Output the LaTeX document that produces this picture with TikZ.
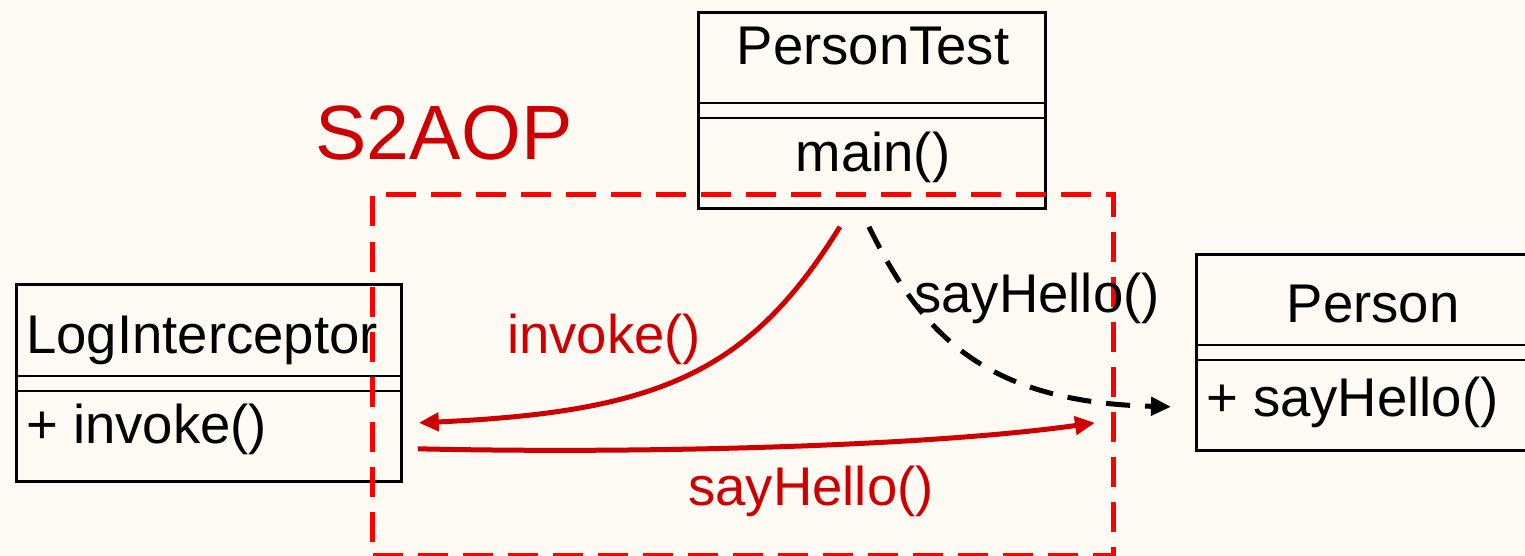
\documentclass[tikz,border=0pt]{standalone}
\usepackage{fontspec}
\setmainfont{Liberation Sans}
\usetikzlibrary{arrows.meta}
\definecolor{bg}{RGB}{253,249,243}
\definecolor{arrred}{RGB}{204,0,0}
\definecolor{boxred}{RGB}{255,0,0}
\tikzset{
  umlbox/.style={draw=black, line width=2.8pt, inner sep=0pt, anchor=north west},
  divider/.style={draw=black, line width=2.8pt},
  txt/.style={inner sep=0pt, anchor=base, font=\fontsize{54.5}{62}\selectfont},
  ltxt/.style={txt, anchor=base west},
  redcall/.style={draw=arrred, line width=5pt, -{Triangle[length=20pt,width=18pt]}},
  blackcall/.style={draw=black, line width=5pt, dash pattern=on 24pt off 15pt, -{Triangle[length=20pt,width=18pt]}},
}
\begin{document}
\begin{tikzpicture}[x=1pt,y=-1pt]
\fill[bg] (0,0) rectangle (1525,556);
\useasboundingbox (0,0) rectangle (1525,556);

% PersonTest
\node[umlbox, minimum width=347pt, minimum height=196pt] (pt) at (697,11) {};
\draw[divider] (697,103) -- (1044,103);
\draw[divider] (697,118) -- (1044,118);
\node[txt] (ptname) at (873,65) {PersonTest};
\node[txt] (ptop) at (873,172) {main()};

% LogInterceptor
\node[umlbox, minimum width=385pt, minimum height=197pt] (li) at (15,283) {};
\draw[divider] (15,376) -- (400,376);
\draw[divider] (15,391) -- (400,391);
\node[ltxt] (liname) at (26,353) {LogInterceptor};
\node[ltxt] (liop) at (26,443) {+ invoke()};

% Person
\node[umlbox, minimum width=340pt, minimum height=196pt] (p) at (1195,253) {};
\draw[divider] (1195,345) -- (1535,345);
\draw[divider] (1195,360) -- (1535,360);
\node[txt] (pname) at (1373,322) {Person};
\node[ltxt] (pop) at (1206,416) {+ sayHello()};

% S2AOP dashed region
\node[draw=boxred, line width=5pt, dash pattern=on 30pt off 15pt, inner sep=0pt, anchor=north west,
      minimum width=741pt, minimum height=361pt] (aop) at (370,192) {};
\node[txt, text=arrred, font=\fontsize{77}{90}\selectfont] (aoplbl) at (444,160) {S2AOP};

% connector end points
\coordinate (ptL) at ([xshift=-32pt,yshift=-17pt]pt.south);
\coordinate (ptR) at ([xshift=-3pt,yshift=-17pt]pt.south);
\coordinate (liIn) at ([xshift=16pt,yshift=60pt]li.south east);
\coordinate (liOut) at ([xshift=15pt,yshift=34pt]li.south east);
\coordinate (pIn) at ([xshift=-100pt,yshift=29pt]p.south west);
\coordinate (pTip) at ([xshift=-24pt,yshift=45pt]p.south west);

% connectors
\draw[redcall] (ptL) .. controls (750,372) and (660,412) .. (liIn);
\draw[redcall] (liOut) .. controls (650,454) and (930,446) .. (pIn);
\draw[blackcall] (ptR) .. controls (920,330) and (980,402) .. (pTip);

% labels
\node[txt, text=arrred] (l1) at (604,353) {invoke()};
\node[txt, text=arrred] (l2) at (811,505) {sayHello()};
\node[txt] (l3) at (1037,312) {sayHello()};
\end{tikzpicture}
\end{document}
